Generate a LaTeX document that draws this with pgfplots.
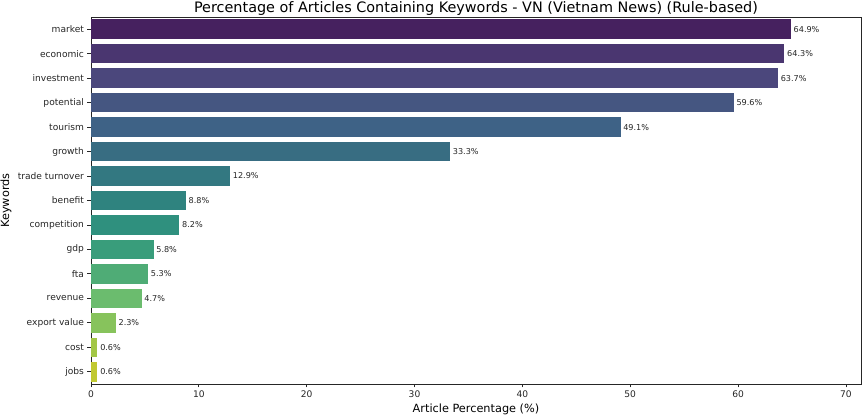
\documentclass[border=0pt]{standalone}
\usepackage{pgfplots}
\pgfplotsset{compat=1.18}
\usepackage{fontspec}
\setmainfont{DejaVu Sans}
\definecolor{c1}{RGB}{70,33,95}
\definecolor{c2}{RGB}{74,54,112}
\definecolor{c3}{RGB}{75,71,124}
\definecolor{c4}{RGB}{69,86,129}
\definecolor{c5}{RGB}{62,98,134}
\definecolor{c6}{RGB}{56,109,130}
\definecolor{c7}{RGB}{51,120,129}
\definecolor{c8}{RGB}{47,131,127}
\definecolor{c9}{RGB}{47,144,126}
\definecolor{c10}{RGB}{57,157,123}
\definecolor{c11}{RGB}{79,172,118}
\definecolor{c12}{RGB}{107,188,110}
\definecolor{c13}{RGB}{135,195,92}
\definecolor{c14}{RGB}{163,199,70}
\definecolor{c15}{RGB}{193,201,50}
\definecolor{axc}{RGB}{38,38,38}
\begin{document}
\begin{tikzpicture}
\begin{axis}[
  scale only axis,
  width=770pt, height=367pt,
  xmin=0, xmax=71.4,
  ymin=-0.5, ymax=14.5,
  y dir=reverse,
  xbar, bar width=0.8, bar shift=0pt,
  xtick={0,10,...,70},
  ytick={0,...,14},
  yticklabels={market,economic,investment,potential,tourism,growth,trade turnover,benefit,competition,gdp,fta,revenue,export value,cost,jobs},
  tick align=outside,
  tick pos=left,
  major tick length=3.5pt,
  every tick/.style={axc, line width=0.8pt},
  axis line style={axc, line width=0.9pt},
  ticklabel style={font=\fontsize{9.1}{10}\selectfont, text=axc},
  /pgf/number format/assume math mode=true,
  title={Percentage of Articles Containing Keywords - VN (Vietnam News) (Rule-based)},
  title style={font=\fontsize{14.4}{16}\selectfont, at={(rel axis cs:0.5,1)}, anchor=base, yshift=-1.4pt, inner sep=0pt},
  xlabel={Article Percentage (\%)},
  xlabel style={font=\fontsize{11.3}{13}\selectfont, at={(rel axis cs:0.5,0)}, anchor=base, yshift=-28.5pt, inner sep=0pt},
  ylabel={Keywords},
  ylabel style={font=\fontsize{11.3}{13}\selectfont, at={(rel axis cs:0,0.5)}, anchor=center, yshift=85pt, inner sep=0pt},
  point meta=x,
  nodes near coords={\pgfmathprintnumber[fixed,fixed zerofill,precision=1]{\pgfplotspointmeta}\%},
  nodes near coords style={anchor=west, font=\fontsize{8.1}{9}\selectfont, text=black!85, inner sep=0pt, xshift=2.6pt},
  clip=false,
]
\addplot[fill=c1, draw=none] coordinates {(64.9,0)};
\addplot[fill=c2, draw=none] coordinates {(64.3,1)};
\addplot[fill=c3, draw=none] coordinates {(63.7,2)};
\addplot[fill=c4, draw=none] coordinates {(59.6,3)};
\addplot[fill=c5, draw=none] coordinates {(49.1,4)};
\addplot[fill=c6, draw=none] coordinates {(33.3,5)};
\addplot[fill=c7, draw=none] coordinates {(12.9,6)};
\addplot[fill=c8, draw=none] coordinates {(8.8,7)};
\addplot[fill=c9, draw=none] coordinates {(8.2,8)};
\addplot[fill=c10, draw=none] coordinates {(5.8,9)};
\addplot[fill=c11, draw=none] coordinates {(5.3,10)};
\addplot[fill=c12, draw=none] coordinates {(4.7,11)};
\addplot[fill=c13, draw=none] coordinates {(2.3,12)};
\addplot[fill=c14, draw=none] coordinates {(0.6,13)};
\addplot[fill=c15, draw=none] coordinates {(0.6,14)};
\coordinate (bl) at (rel axis cs:0,0);
\coordinate (tr) at (rel axis cs:1,1);
\end{axis}
\pgfresetboundingbox
\path[use as bounding box] ([xshift=-91pt,yshift=-32pt]bl) rectangle ([xshift=1pt,yshift=17pt]tr);
\end{tikzpicture}
\end{document}
